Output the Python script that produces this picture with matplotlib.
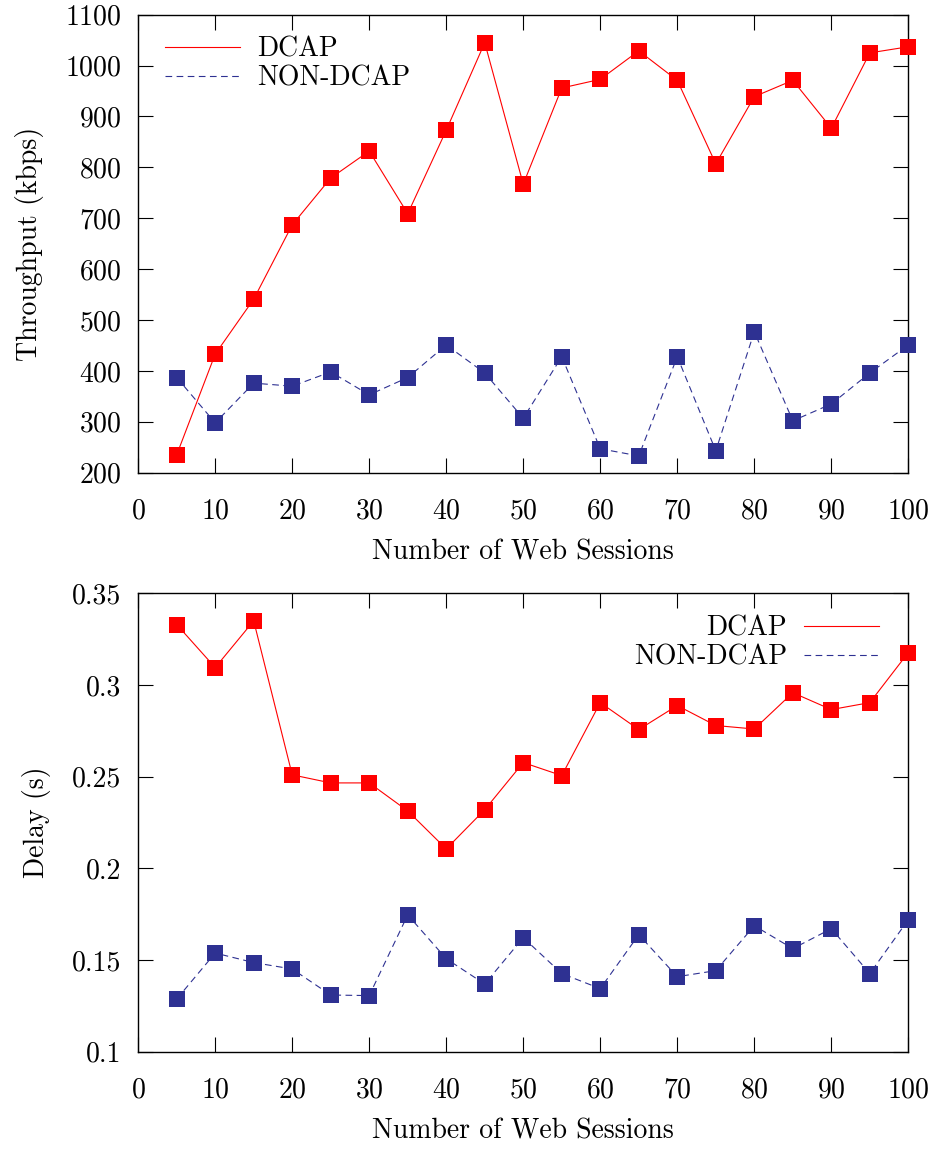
import matplotlib
matplotlib.use("Agg")
import matplotlib.pyplot as plt
from matplotlib.lines import Line2D
from matplotlib.ticker import FuncFormatter

plt.rcParams["font.family"] = "serif"
plt.rcParams["font.serif"] = ["cmr10"]
plt.rcParams["mathtext.fontset"] = "cm"
plt.rcParams["axes.formatter.use_mathtext"] = True

sessions = [5, 10, 15, 20, 25, 30, 35, 40, 45, 50,
            55, 60, 65, 70, 75, 80, 85, 90, 95, 100]

thr_dcap = [235, 433, 541, 687, 779, 832, 709, 873, 1045, 767,
            956, 973, 1029, 971, 807, 939, 971, 877, 1025, 1037]
thr_non = [387, 298, 376, 370, 398, 353, 387, 451, 396, 307,
           428, 247, 233, 428, 243, 477, 302, 335, 396, 451]

delay_dcap = [0.333, 0.3095, 0.335, 0.251, 0.2466, 0.2466, 0.2313, 0.2106, 0.232, 0.2577,
              0.2506, 0.2904, 0.2757, 0.2888, 0.2779, 0.276, 0.2958, 0.2866, 0.2904, 0.3177]
delay_non = [0.1287, 0.1538, 0.1486, 0.1451, 0.1309, 0.1306, 0.1746, 0.1507, 0.1369, 0.1622,
             0.1426, 0.1344, 0.1638, 0.1409, 0.1442, 0.1687, 0.1562, 0.1671, 0.1426, 0.172]

RED = "#ff0000"
BLUE = "#2e3192"
FS = 20


def draw(ax, ydcap, ynon):
    ax.plot(sessions, ydcap, "-", color=RED, linewidth=0.8,
            marker="s", markersize=11.5, markeredgewidth=0, clip_on=False, zorder=3)
    ax.plot(sessions, ynon, "--", color=BLUE, linewidth=0.8, dashes=(6, 4),
            marker="s", markersize=11.5, markeredgewidth=0, clip_on=False, zorder=3)
    ax.set_xlim(0, 100)
    ax.set_xticks(range(0, 101, 10))
    ax.tick_params(direction="in", top=True, right=True, length=11, width=0.8,
                   labelsize=FS)
    ax.tick_params(axis="x", pad=18)
    ax.tick_params(axis="y", pad=12)
    for s in ax.spines.values():
        s.set_linewidth(1.0)
    ax.set_xlabel("Number of Web Sessions", fontsize=FS, labelpad=11)


handles = [Line2D([], [], color=RED, linewidth=0.8),
           Line2D([], [], color=BLUE, linewidth=0.8, linestyle="--", dashes=(6, 4))]
labels = ["DCAP", "NON-DCAP"]

fig = plt.figure(figsize=(9.4, 11.49), dpi=100)

ax1 = fig.add_axes([0.147, 0.5886, 0.8193, 0.3986])
draw(ax1, thr_dcap, thr_non)
ax1.set_ylim(200, 1100)
ax1.set_yticks(range(200, 1101, 100))
ax1.set_ylabel("Throughput (kbps)", fontsize=FS, labelpad=15)
ax1.legend(handles, labels, loc="upper left", frameon=False, fontsize=FS,
           handlelength=2.7, handletextpad=0.6, labelspacing=0.1,
           borderaxespad=0.3, bbox_to_anchor=(0.01, 0.995))

ax2 = fig.add_axes([0.147, 0.0847, 0.8193, 0.3989])
draw(ax2, delay_dcap, delay_non)
ax2.set_ylim(0.1, 0.35)
ax2.set_yticks([0.1, 0.15, 0.2, 0.25, 0.3, 0.35])
ax2.yaxis.set_major_formatter(FuncFormatter(lambda v, p: "%g" % round(v, 2)))
ax2.set_ylabel("Delay (s)", fontsize=FS, labelpad=15)
ax2.legend(handles, labels, loc="upper right", frameon=False, fontsize=FS,
           handlelength=2.7, handletextpad=0.6, labelspacing=0.1, markerfirst=False,
           borderaxespad=0.3, bbox_to_anchor=(0.987, 0.995))

fig.savefig("out.png", dpi=100)
